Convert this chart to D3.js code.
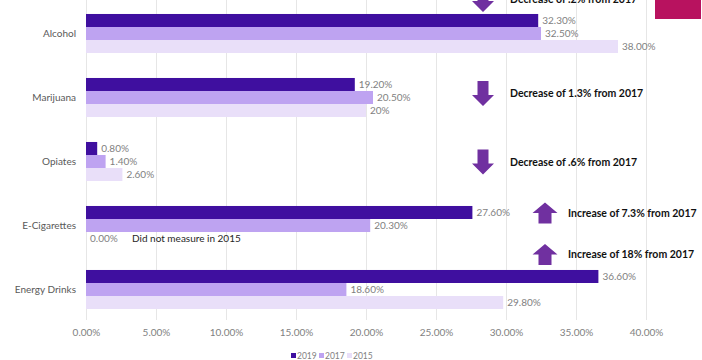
<!DOCTYPE html>
<html>
<head>
<meta charset="utf-8">
<script src="https://cdn.jsdelivr.net/npm/d3@7"></script>
<style>
  body { margin:0; background:#fff; }
  svg text { font-family: "Century Gothic", Lato, "DejaVu Sans", sans-serif; }
</style>
</head>
<body>
<div id="chart"></div>
<script>
// values, in percent
const categories = ["Alcohol", "Marijuana", "Opiates", "E-Cigarettes", "Energy Drinks"];
const years = ["2019", "2017", "2015"];
const v2019 = [32.3, 19.2, 0.8, 27.6, 36.6];
const v2017 = [32.5, 20.5, 1.4, 20.3, 18.6];
const v2015 = [38.0, 20.0, 2.6, 0.0, 29.8];
const xTicks = [0, 5, 10, 15, 20, 25, 30, 35, 40];
const labelOverrides = { "Marijuana|2015": "20%" };
const noteText = "Did not measure in 2015";
const notes = [
  { cat: "Alcohol", dir: "down", text: "Decrease of .2% from 2017" },
  { cat: "Marijuana", dir: "down", text: "Decrease of 1.3% from 2017" },
  { cat: "Opiates", dir: "down", text: "Decrease of .6% from 2017" },
  { cat: "E-Cigarettes", dir: "up", text: "Increase of 7.3% from 2017" },
  { cat: "Energy Drinks", dir: "up", text: "Increase of 18% from 2017" }
];

const colors = { "2019": "#3f0f9f", "2017": "#bea3f1", "2015": "#e9dff9" };
const W = 702, H = 360;

const svg = d3.select("#chart").append("svg").attr("width", W).attr("height", H);

const x = d3.scaleLinear().domain([0, 40]).range([86, 646]);
const y = d3.scaleBand().domain(categories).range([1.5, 321.5]).paddingInner(0.39).paddingOuter(0.195);
const ySub = d3.scaleBand().domain(years).range([0, y.bandwidth()]);

// gridlines + tick labels
const gx = svg.append("g").attr("transform", "translate(0,320)")
  .call(d3.axisBottom(x).tickValues(xTicks).tickSize(-320).tickPadding(9)
    .tickFormat(d => d3.format(".2f")(d) + "%"));
gx.select(".domain").remove();
gx.selectAll("line").attr("stroke", "#e6e6e6");
gx.selectAll("text").attr("fill", "#7f7f7f").style("font-size", "10px");

// category labels
const gy = svg.append("g").attr("transform", "translate(86,0)")
  .call(d3.axisLeft(y).tickSize(0).tickPadding(10));
gy.select(".domain").remove();
gy.selectAll("text").attr("fill", "#595959").style("font-size", "10px");

const rows = [];
categories.forEach((c, i) => {
  rows.push({ cat: c, year: "2019", v: v2019[i] });
  rows.push({ cat: c, year: "2017", v: v2017[i] });
  rows.push({ cat: c, year: "2015", v: v2015[i] });
});

svg.append("g").selectAll("rect").data(rows).enter().append("rect")
  .attr("x", x(0))
  .attr("y", d => y(d.cat) + ySub(d.year))
  .attr("width", d => x(d.v) - x(0))
  .attr("height", ySub.bandwidth())
  .attr("fill", d => colors[d.year]);

svg.append("g").selectAll("text").data(rows).enter().append("text")
  .attr("x", d => x(d.v) + 4)
  .attr("y", d => y(d.cat) + ySub(d.year) + ySub.bandwidth() / 2)
  .attr("dy", "0.35em")
  .attr("fill", "#7f7f7f")
  .style("font-size", "10px")
  .text(d => labelOverrides[d.cat + "|" + d.year] || d3.format(".2f")(d.v) + "%");

// the E-cig 2015 note
svg.append("text")
  .attr("x", x(0) + 46)
  .attr("y", y("E-Cigarettes") + ySub("2015") + ySub.bandwidth() / 2)
  .attr("dy", "0.35em")
  .attr("fill", "#262626")
  .style("font-size", "10px")
  .text(noteText);

// arrows + change notes, offsets are just where they sit on the slide
const noteShift = [-34, -4, 0.5, -12.5, -35];
const arrowPath = (cx, cy, dir) => {
  if (dir === "down") {
    return `M${cx-5.5},${cy-12.5}H${cx+5.5}V${cy+1.5}H${cx+11}L${cx},${cy+12.5}L${cx-11},${cy+1.5}H${cx-5.5}Z`;
  }
  return `M${cx-6.5},${cy+10.5}H${cx+6.5}V${cy}H${cx+12.5}L${cx},${cy-10.5}L${cx-12.5},${cy}H${cx-6.5}Z`;
};
const ng = svg.append("g");
notes.forEach((n, i) => {
  const cy = y(n.cat) + y.bandwidth() / 2 + noteShift[i];
  const ax = n.dir === "down" ? 483 : 545;
  ng.append("path").attr("d", arrowPath(ax, cy, n.dir)).attr("fill", "#7030a0");
  ng.append("text")
    .attr("x", ax + (n.dir === "down" ? 27 : 23))
    .attr("y", cy).attr("dy", "0.35em")
    .attr("fill", "#111")
    .style("font-size", "10.5px").style("font-weight", "bold")
    .text(n.text);
});

// slide decoration top right
svg.append("rect").attr("x", 655).attr("y", 0).attr("width", 46).attr("height", 19).attr("fill", "#b8125f");

// legend
const lg = svg.append("g").attr("transform", "translate(291,356)");
years.forEach((yr, i) => {
  const g = lg.append("g").attr("transform", `translate(${i * 28},0)`);
  g.append("rect").attr("x", 0).attr("y", -3).attr("width", 5).attr("height", 5).attr("fill", colors[yr]);
  g.append("text").attr("x", 6).attr("dy", "0.3em").attr("fill", "#7f7f7f")
    .style("font-size", "8.5px").text(yr);
});
</script>
</body>
</html>
